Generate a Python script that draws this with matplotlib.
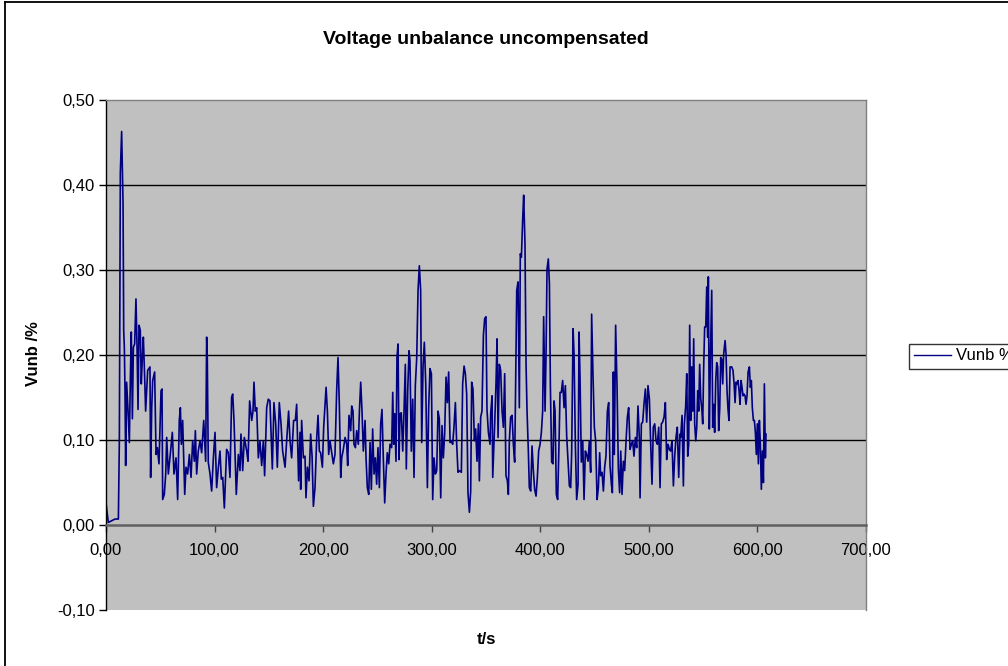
import matplotlib
matplotlib.use("Agg")
import matplotlib.pyplot as plt
from matplotlib.ticker import FuncFormatter, MultipleLocator
from matplotlib.lines import Line2D

plt.rcParams['font.family'] = ['Liberation Sans', 'DejaVu Sans']

# time in seconds and voltage unbalance in %
t_s = [
    0.0, 2.1, 8.3, 11.4, 12.3, 13.2, 14.4, 15.7, 16.3, 16.9, 17.5, 18.1, 19.0, 20.3, 21.5,
    22.4, 23.3, 24.3, 25.2, 26.4, 27.6, 28.6, 29.5, 30.4, 31.6, 32.5, 33.5, 34.4, 35.6, 36.5,
    38.4, 40.5, 41.1, 42.1, 43.0, 44.8, 46.1, 47.3, 48.8, 50.7, 51.6, 52.2, 53.7, 55.0, 55.9,
    57.4, 58.9, 61.1, 62.6, 64.5, 66.0, 67.5, 68.5, 69.4, 70.6, 72.5, 73.7, 75.2, 76.8, 78.3,
    79.8, 81.4, 82.3, 83.5, 85.0, 86.6, 88.1, 90.0, 91.8, 92.7, 93.3, 94.2, 95.8, 97.3, 98.9,
    100.4, 101.9, 103.5, 105.0, 106.2, 107.5, 109.0, 111.1, 112.7, 114.2, 115.7, 116.7, 117.9, 120.0, 121.9,
    123.4, 124.3, 125.9, 127.4, 129.6, 130.8, 132.3, 134.2, 135.4, 136.3, 137.5, 138.8, 140.3, 141.8, 143.4,
    144.9, 146.1, 148.0, 149.5, 151.0, 153.2, 154.7, 156.3, 157.8, 159.6, 161.2, 162.7, 164.9, 166.4, 168.2,
    169.5, 171.0, 172.8, 174.4, 175.6, 177.4, 178.7,
    179.3, 180.2, 181.8, 183.3, 184.2, 185.5, 187.0, 188.5, 189.8, 191.0, 192.5, 194.1, 195.3, 196.5, 197.7,
    199.3, 200.5, 201.7, 202.7, 203.9, 205.1, 206.3, 207.9, 209.4, 210.9, 212.5, 213.7, 214.9, 216.2, 217.1,
    218.6, 220.2, 221.7, 222.6, 223.8, 225.4, 226.3, 227.5, 228.4, 229.7, 230.9, 232.4, 233.4, 234.6, 235.8,
    237.0, 238.6, 239.5, 240.7, 242.0, 243.2, 244.4, 245.6, 246.9, 248.1, 249.3, 250.5, 251.8, 253.0, 254.2,
    255.5, 256.7, 257.9, 259.1, 260.4, 261.6, 263.1, 264.1, 265.0, 265.9, 267.1, 268.0, 269.0, 269.9, 270.8,
    272.0, 273.3, 274.5, 275.7, 276.6, 277.9, 279.1, 280.0, 281.2, 282.5, 283.7, 284.9, 286.2, 287.4, 288.6,
    289.8, 290.8, 292.0, 293.2, 294.5, 296.0, 297.2, 298.4, 299.7, 300.9, 302.1, 303.4, 304.6, 305.8, 307.0,
    308.3, 309.5, 310.7, 311.9, 313.2, 314.4, 315.6, 316.9, 318.1, 319.3, 320.5, 321.8, 323.0, 324.2, 325.5,
    327.3, 328.5, 329.8, 331.0, 332.2, 333.4, 334.7, 335.9, 336.8, 338.0, 339.3, 340.5, 341.7, 343.0, 343.9,
    345.1, 346.3, 347.6, 348.8, 350.0, 350.9, 352.2, 353.7,
    354.3, 355.6, 356.2, 357.1, 358.0, 359.2, 360.2, 361.1, 362.3, 363.5, 364.8, 366.0, 367.2, 368.4, 369.7,
    370.6, 371.5, 372.7, 374.0, 375.2, 376.4, 377.0, 378.3, 379.5, 380.7, 381.6, 382.6, 383.8, 384.7, 385.9,
    386.9, 387.8, 389.0, 389.9, 391.2, 392.4, 393.6, 394.8, 396.1, 397.3, 398.5, 399.8, 401.0, 402.2, 403.1,
    404.4, 405.3, 406.2, 407.4, 408.4, 409.3, 410.5, 411.7, 412.7, 413.6, 414.8, 416.0, 417.3, 418.2, 419.4,
    420.6, 421.9, 423.1, 424.3, 425.5, 426.8, 428.0, 428.9, 430.2, 431.1, 432.3, 433.5, 434.8, 435.7, 436.6,
    437.8, 439.1, 440.3, 441.5, 442.7, 444.0, 445.2, 446.4, 447.3, 448.6, 449.8, 451.0, 452.3, 453.5, 454.7,
    455.6, 456.9, 458.1, 459.3, 460.5, 461.8, 463.0, 464.2, 465.5, 466.4, 467.3, 468.2, 469.4, 470.7, 471.9,
    473.1, 474.1, 475.3, 476.5, 477.7, 479.0, 480.2, 481.4, 482.7, 483.9, 485.1, 486.3, 487.6, 488.8, 490.0,
    491.2, 491.9, 493.1, 494.3, 495.5, 496.8, 498.0, 499.2, 500.5, 501.7, 502.9, 504.1, 505.4, 506.6, 507.8,
    509.1, 510.3, 511.5, 512.7, 514.0, 515.2, 516.4, 517.6, 518.9, 520.1, 521.3, 522.6, 523.8, 525.0, 526.2,
    527.5, 528.7,
    529.3, 530.6, 531.8, 532.7, 533.9, 534.9, 535.8, 536.7, 537.6, 538.5, 539.5, 540.4, 541.3, 542.2, 543.2,
    544.1, 545.0, 545.9, 546.8, 547.8, 548.7, 549.6, 550.5, 551.4, 552.4, 553.3, 554.2, 554.8, 555.7, 556.7,
    557.9, 558.8, 559.7, 560.6, 561.6, 562.5, 563.4, 564.3, 565.3, 566.2, 567.1, 568.0, 568.9, 570.2, 571.1,
    572.0, 572.9, 573.8, 574.8, 576.3, 577.5, 578.5, 579.4, 580.3, 581.2, 582.1, 583.1, 584.0, 584.9, 585.8,
    586.7, 587.7, 588.6, 589.5, 590.4, 591.4, 592.6, 593.5, 594.4, 595.3, 596.3, 597.2, 598.1, 599.0, 599.9,
    600.9, 601.8, 602.7, 603.6, 604.6, 605.5, 606.4, 607.3, 607.9,
]

vunb = [
    0.026, 0.003, 0.007, 0.007, 0.099, 0.414, 0.463, 0.378, 0.229, 0.209, 0.158, 0.070, 0.168, 0.134, 0.097,
    0.170, 0.227, 0.125, 0.209, 0.213, 0.266, 0.209, 0.136, 0.235, 0.229, 0.166, 0.197, 0.221, 0.174, 0.134,
    0.182, 0.186, 0.056, 0.138, 0.170, 0.180, 0.083, 0.091, 0.072, 0.158, 0.160, 0.030, 0.036, 0.060, 0.103,
    0.060, 0.079, 0.109, 0.060, 0.079, 0.030, 0.123, 0.138, 0.095, 0.123, 0.036, 0.068, 0.060, 0.083, 0.056,
    0.099, 0.075, 0.111, 0.060, 0.087, 0.099, 0.085, 0.123, 0.075, 0.221, 0.197, 0.074, 0.060, 0.040, 0.079,
    0.109, 0.044, 0.068, 0.087, 0.054, 0.056, 0.020, 0.089, 0.085, 0.056, 0.150, 0.154, 0.123, 0.036, 0.083,
    0.064, 0.107, 0.064, 0.103, 0.087, 0.075, 0.146, 0.123, 0.134, 0.168, 0.134, 0.138, 0.079, 0.099, 0.070,
    0.099, 0.058, 0.138, 0.148, 0.146, 0.066, 0.144, 0.119, 0.068, 0.144, 0.119, 0.087, 0.068, 0.099, 0.134,
    0.099, 0.079, 0.123, 0.123, 0.142, 0.052, 0.109,
    0.042, 0.123, 0.079, 0.081, 0.032, 0.068, 0.052, 0.107, 0.081, 0.022, 0.044, 0.103, 0.129, 0.087, 0.085,
    0.068, 0.115, 0.140, 0.162, 0.134, 0.083, 0.099, 0.085, 0.072, 0.083, 0.160, 0.197, 0.142, 0.056, 0.079,
    0.089, 0.103, 0.095, 0.070, 0.129, 0.111, 0.140, 0.134, 0.095, 0.091, 0.111, 0.095, 0.134, 0.168, 0.134,
    0.087, 0.123, 0.079, 0.044, 0.036, 0.097, 0.042, 0.113, 0.060, 0.079, 0.048, 0.091, 0.044, 0.119, 0.136,
    0.075, 0.026, 0.060, 0.085, 0.072, 0.095, 0.091, 0.156, 0.095, 0.131, 0.075, 0.197, 0.213, 0.077, 0.131,
    0.132, 0.087, 0.134, 0.189, 0.066, 0.158, 0.205, 0.193, 0.087, 0.148, 0.056, 0.164, 0.197, 0.276, 0.305,
    0.276, 0.097, 0.186, 0.215, 0.166, 0.044, 0.138, 0.184, 0.178, 0.030, 0.079, 0.060, 0.064, 0.134, 0.125,
    0.032, 0.117, 0.079, 0.107, 0.174, 0.144, 0.180, 0.097, 0.099, 0.095, 0.115, 0.144, 0.095, 0.062, 0.064,
    0.062, 0.166, 0.187, 0.178, 0.154, 0.038, 0.015, 0.040, 0.168, 0.160, 0.099, 0.113, 0.075, 0.119, 0.052,
    0.127, 0.134, 0.223, 0.243, 0.245, 0.136, 0.109, 0.095,
    0.131, 0.152, 0.056, 0.087, 0.119, 0.166, 0.219, 0.103, 0.189, 0.182, 0.134, 0.115, 0.178, 0.058, 0.052,
    0.036, 0.099, 0.127, 0.129, 0.095, 0.074, 0.134, 0.276, 0.286, 0.138, 0.319, 0.315, 0.360, 0.388, 0.331,
    0.189, 0.134, 0.087, 0.044, 0.040, 0.093, 0.064, 0.042, 0.034, 0.056, 0.087, 0.095, 0.109, 0.134, 0.245,
    0.134, 0.201, 0.301, 0.313, 0.284, 0.164, 0.074, 0.072, 0.146, 0.134, 0.036, 0.030, 0.099, 0.156, 0.156,
    0.170, 0.138, 0.164, 0.105, 0.077, 0.046, 0.044, 0.085, 0.231, 0.201, 0.095, 0.030, 0.048, 0.227, 0.174,
    0.074, 0.099, 0.030, 0.087, 0.083, 0.075, 0.099, 0.062, 0.248, 0.174, 0.115, 0.099, 0.030, 0.044, 0.085,
    0.058, 0.062, 0.040, 0.068, 0.081, 0.134, 0.144, 0.070, 0.048, 0.038, 0.180, 0.083, 0.235, 0.162, 0.066,
    0.038, 0.087, 0.036, 0.075, 0.064, 0.099, 0.127, 0.138, 0.089, 0.095, 0.099, 0.081, 0.103, 0.091, 0.140,
    0.103, 0.032, 0.119, 0.121, 0.142, 0.160, 0.121, 0.164, 0.148, 0.095, 0.048, 0.115, 0.119, 0.099, 0.095,
    0.115, 0.044, 0.119, 0.121, 0.127, 0.144, 0.077, 0.095, 0.089, 0.087, 0.099, 0.046, 0.081, 0.103, 0.115,
    0.056, 0.107,
    0.103, 0.129, 0.046, 0.119, 0.140, 0.178, 0.081, 0.095, 0.235, 0.123, 0.186, 0.134, 0.219, 0.119, 0.099,
    0.115, 0.158, 0.134, 0.189, 0.148, 0.138, 0.119, 0.186, 0.233, 0.233, 0.280, 0.221, 0.292, 0.113, 0.197,
    0.276, 0.115, 0.142, 0.109, 0.170, 0.191, 0.186, 0.111, 0.138, 0.197, 0.195, 0.166, 0.201, 0.217, 0.201,
    0.158, 0.136, 0.123, 0.186, 0.186, 0.182, 0.166, 0.144, 0.168, 0.166, 0.170, 0.158, 0.142, 0.170, 0.162,
    0.152, 0.154, 0.152, 0.142, 0.152, 0.180, 0.186, 0.162, 0.170, 0.138, 0.123, 0.123, 0.109, 0.083, 0.119,
    0.072, 0.123, 0.095, 0.042, 0.087, 0.050, 0.166, 0.079, 0.107,
]

W, H = 1008, 666
fig = plt.figure(figsize=(W / 100, H / 100), dpi=100)

# chart area border (only top/left visible, rest is cropped)
fig.add_artist(Line2D([5 / W, 5 / W], [0, 1 - 2 / H], color='black', lw=1.3))
fig.add_artist(Line2D([5 / W, 1], [1 - 2 / H, 1 - 2 / H], color='black', lw=1.3))

ax = fig.add_axes([106 / W, 1 - 610 / H, 760 / W, 510 / H])
ax.set_facecolor('#C0C0C0')

ax.plot(t_s, vunb, color='#000080', lw=1.2, label='Vunb %')

ax.set_xlim(0, 700)
ax.set_ylim(-0.1, 0.5)
ax.xaxis.set_major_locator(MultipleLocator(100))
ax.yaxis.set_major_locator(MultipleLocator(0.1))
comma = FuncFormatter(lambda v, pos: f"{v:.2f}".replace('.', ','))
ax.xaxis.set_major_formatter(comma)
ax.yaxis.set_major_formatter(comma)

for v in [0.1, 0.2, 0.3, 0.4]:
    ax.axhline(v, color='black', lw=1.0, zorder=1)

ax.spines['bottom'].set_position(('data', 0))
ax.spines['bottom'].set_color('#606060')
ax.spines['bottom'].set_linewidth(1.8)
ax.spines['left'].set_color('black')
ax.spines['left'].set_linewidth(1.0)
for s in ['top', 'right']:
    ax.spines[s].set_color('#808080')
    ax.spines[s].set_linewidth(1.0)

ax.tick_params(axis='y', direction='out', length=5, width=1, pad=3, labelsize=12, colors='black')
ax.tick_params(axis='x', direction='out', length=5, width=1, pad=8, labelsize=12, colors='black')
ax.tick_params(axis='x', color='#404040')

fig.text(0.5 * (106 + 866) / W, 1 - 40 / H, 'Voltage unbalance uncompensated',
         ha='center', va='center', fontsize=14, fontweight='bold')
fig.text(34 / W, 1 - 354 / H, 'Vunb /%', rotation=90, ha='center', va='center',
         fontsize=12, fontweight='bold')
fig.text(486 / W, 1 - 639 / H, 't/s', ha='center', va='center', fontsize=12, fontweight='bold')

leg = ax.legend(loc='center left', bbox_to_anchor=((909 - 106) / 760, (610 - 356) / 510),
                frameon=True, fancybox=False, edgecolor='black', fontsize=12,
                handlelength=2.2, borderpad=0.3, handletextpad=0.3, borderaxespad=0)
leg.get_frame().set_linewidth(1.0)
for line in leg.get_lines():
    line.set_linewidth(1.0)

fig.savefig('out.png', dpi=100)
